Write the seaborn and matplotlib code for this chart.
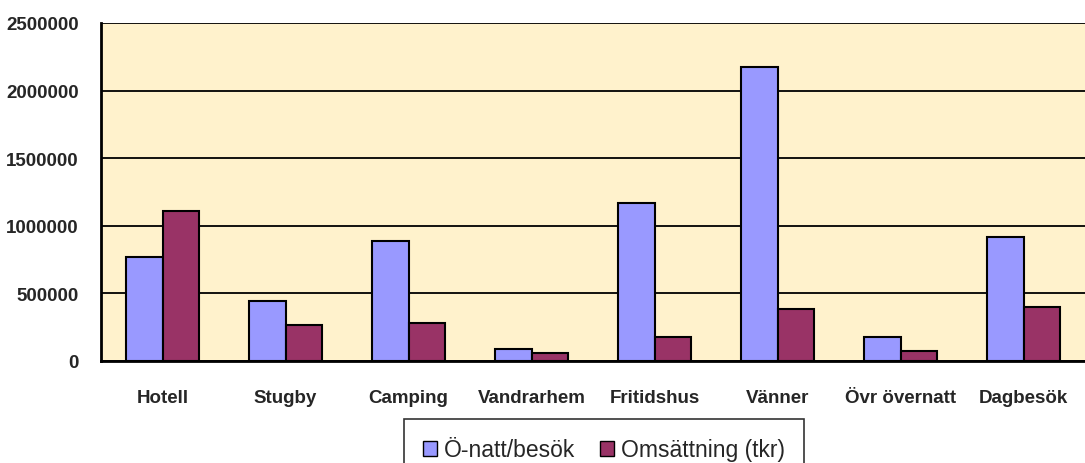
import pandas as pd
import matplotlib.pyplot as plt
import seaborn as sns

kategorier = ['Hotell', 'Stugby', 'Camping', 'Vandrarhem', 'Fritidshus', 'Vänner', 'Övr övernatt', 'Dagbesök']
natt_besok = [769000, 444000, 888000, 89000, 1169000, 2175000, 178000, 917000]
omsattning = [1109000, 266000, 281000, 59000, 178000, 385000, 74000, 399000]
serier = ['Ö-natt/besök', 'Omsättning (tkr)']
farger = ['#9999FF', '#993366']
y_ticks = [0, 500000, 1000000, 1500000, 2000000, 2500000]

df = pd.DataFrame({
    'Kategori': kategorier * 2,
    'Serie': [serier[0]] * len(kategorier) + [serier[1]] * len(kategorier),
    'Varde': natt_besok + omsattning,
})

sns.set_style('white')
plt.rcParams['font.family'] = ['Liberation Sans', 'DejaVu Sans']

fig = plt.figure(figsize=(10.85, 4.64), dpi=100)
ax = fig.add_axes([101 / 1085, 102 / 464, 984 / 1085, 338 / 464])
ax.set_facecolor('#FFF2CC')

sns.barplot(data=df, x='Kategori', y='Varde', hue='Serie', palette=farger, saturation=1,
            width=0.6, edgecolor='black', linewidth=1.5, ax=ax, legend=False)

ax.set_ylim(0, 2500000)
ax.set_xlim(-0.5, 7.5)
ax.set_yticks(y_ticks)
ax.set_yticklabels([str(v) for v in y_ticks], fontsize=13.5, fontweight='bold')
ax.grid(axis='y', color='black', linewidth=1.3)
ax.set_axisbelow(True)
ax.set_xlabel('')
ax.set_ylabel('')

# kategori-etiketter mellan tickmarkeringarna
ax.set_xticks([i - 0.5 for i in range(9)])
ax.set_xticklabels([])
ax.set_xticks(range(8), minor=True)
ax.set_xticklabels(kategorier, minor=True, fontsize=13.5, fontweight='bold')
ax.tick_params(axis='x', which='minor', length=0, pad=20)
ax.tick_params(axis='x', which='major', direction='out', length=5, width=1.2, color='black')
ax.tick_params(axis='y', direction='out', length=5, width=1.2, color='black', pad=11)

for side in ['top', 'right']:
    ax.spines[side].set_visible(False)
for side in ['left', 'bottom']:
    ax.spines[side].set_color('black')
    ax.spines[side].set_linewidth(2)

handles = [plt.Rectangle((0, 0), 1, 1, facecolor=c, edgecolor='black', linewidth=1) for c in farger]
leg = fig.legend(handles, serier, loc='upper center', bbox_to_anchor=(604 / 1085, 1 - 420 / 464), ncol=2,
                 frameon=True, fancybox=False, edgecolor='black',
                 handlelength=0.6, handleheight=0.6, handletextpad=0.3, columnspacing=1.1,
                 borderpad=0.85, borderaxespad=0, prop={'size': 16.5})
leg.get_frame().set_linewidth(1.2)

fig.savefig('out.png', dpi=100)
